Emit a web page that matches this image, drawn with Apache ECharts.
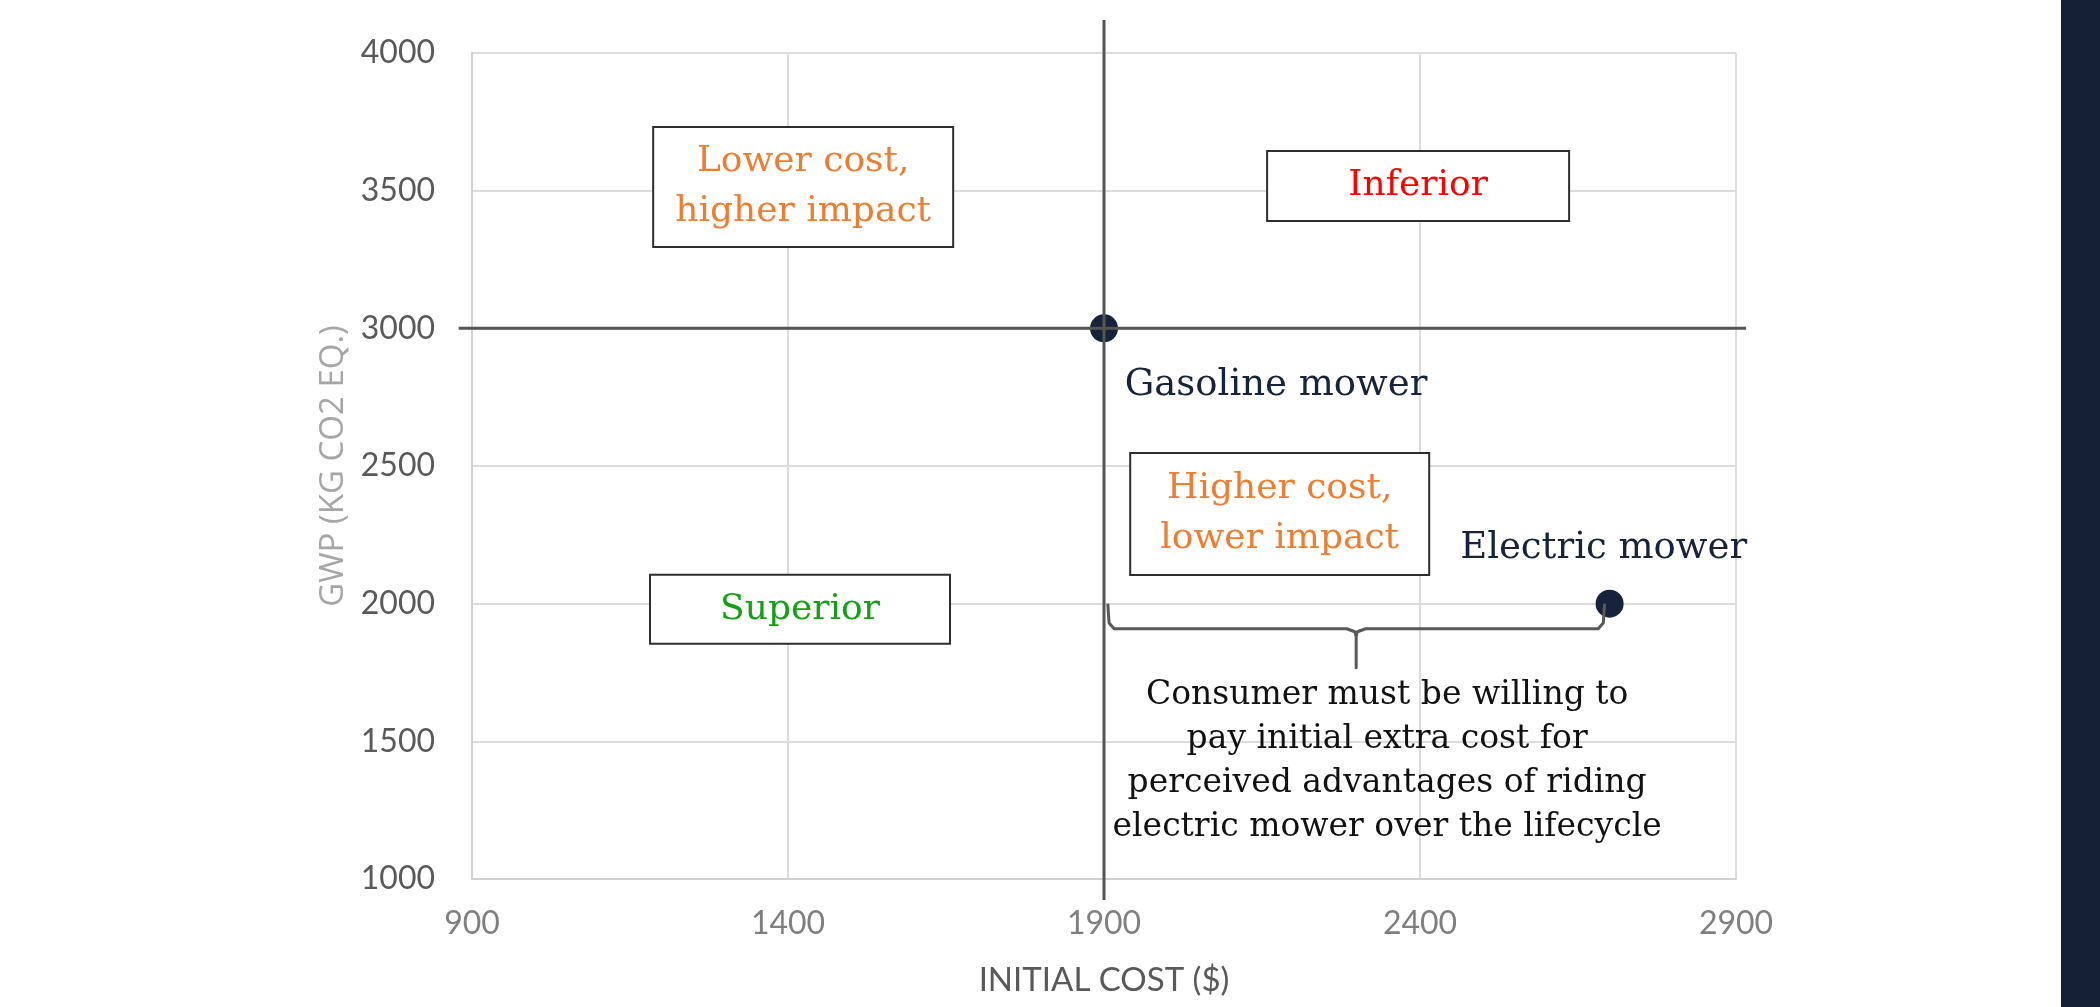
<!DOCTYPE html>
<html>
<head>
<meta charset="utf-8">
<script src="https://cdn.jsdelivr.net/npm/echarts@6/dist/echarts.min.js"></script>
<style>
html,body{margin:0;padding:0;background:#fff;}
#chart{width:2100px;height:1007px;}
</style>
</head>
<body>
<div id="chart"></div>
<script>
// ---- data ----
const mowerNames = ['Gasoline mower', 'Electric mower'];
const initialCost = [1900, 2700];
const gwpValues = [3000, 2000];

// reference cross-lines through the gasoline mower (extend slightly past the axes)
const vLineX = [1900, 1900];
const vLineY = [4120, 924];
const hLineX = [879, 2916];
const hLineY = [3000, 3000];

// brace under the cost gap (gasoline -> electric)
const braceX = [1906, 1908, 1916, 2284, 2297, 2299, 2299, 2299, 2301, 2314, 2682, 2690, 2692];
const braceY = [2000, 1930, 1909, 1909, 1898, 1880, 1767, 1880, 1898, 1909, 1909, 1930, 2000];

// quadrant labels
const quadrantTexts = ['Lower cost,\nhigher impact', 'Inferior', 'Higher cost,\nlower impact', 'Superior'];
const quadrantColors = ['#ed7d31', '#ff0000', '#ed7d31', '#13a013'];
const quadrantX = [1424, 2397, 2178, 1419];
const quadrantY = [3513, 3517, 2326, 1980];
const quadrantBoxW = [300, 302, 299, 300];
const quadrantBoxH = [120, 70, 122, 69];

const noteText = 'Consumer must be willing to\npay initial extra cost for\nperceived advantages of riding\nelectric mower over the lifecycle';
const noteX = 2348;
const noteY = 1428;

const xMin = 900, xMax = 2900, xStep = 500;
const yMin = 1000, yMax = 4000, yStep = 500;

// ---- chart ----
const chart = echarts.init(document.getElementById('chart'), null, {renderer: 'canvas'});
const serif = '"DejaVu Serif", Georgia, serif';
const navy = '#16233a';

const pointLabelOffsets = [[172, 57], [-6, -55]];

const option = {
  backgroundColor: '#ffffff',
  animation: false,
  grid: {left: 472, right: 364, top: 53, bottom: 128, containLabel: false},
  xAxis: {
    type: 'value', min: xMin, max: xMax, interval: xStep,
    name: 'INITIAL COST ($)', nameLocation: 'middle', nameGap: 85,
    nameTextStyle: {fontFamily: 'Lato', fontSize: 33, color: '#595959'},
    axisLine: {show: true, lineStyle: {color: '#d0d0d0', width: 2}},
    axisTick: {show: false},
    axisLabel: {fontFamily: 'Lato', fontSize: 32, color: '#7f7f7f', margin: 29, formatter: v => String(v)},
    splitLine: {show: true, lineStyle: {color: '#dcdcdc', width: 2}}
  },
  yAxis: {
    type: 'value', min: yMin, max: yMax, interval: yStep,
    name: 'GWP (KG CO2 EQ.)', nameLocation: 'middle', nameGap: 118,
    nameTextStyle: {fontFamily: '"Open Sans"', fontSize: 33, color: '#a6a6a6'},
    axisLine: {show: true, lineStyle: {color: '#d0d0d0', width: 2}},
    axisTick: {show: false},
    axisLabel: {fontFamily: 'Lato', fontSize: 32, color: '#595959', margin: 37, formatter: v => String(v)},
    splitLine: {show: true, lineStyle: {color: '#dcdcdc', width: 2}}
  },
  series: [
    {
      type: 'scatter',
      z: 3,
      symbolSize: 28,
      itemStyle: {color: navy, opacity: 1},
      data: mowerNames.map((n, i) => ({
        name: n,
        value: [initialCost[i], gwpValues[i]],
        label: {
          show: true, formatter: n, position: 'inside',
          offset: pointLabelOffsets[i],
          fontFamily: serif, fontSize: 37, color: navy
        }
      }))
    }
  ]
};
chart.setOption(option);

const toPx = (xs, ys) => xs.map((x, i) => chart.convertToPixel({gridIndex: 0}, [x, ys[i]]));

const graphics = [];
[[vLineX, vLineY, '#555555'], [hLineX, hLineY, '#555555'], [braceX, braceY, '#595959']].forEach(([xs, ys, c]) => {
  graphics.push({
    type: 'polyline', z: 5, silent: true,
    shape: {points: toPx(xs, ys)},
    style: {stroke: c, lineWidth: 3, fill: null, lineJoin: 'round'}
  });
});
// keep dots visible under the lines (lines drawn above dots as in reference)
quadrantTexts.forEach((t, i) => {
  const p = chart.convertToPixel({gridIndex: 0}, [quadrantX[i], quadrantY[i]]);
  const w = quadrantBoxW[i], h = quadrantBoxH[i];
  graphics.push({
    type: 'rect', z: 10,
    shape: {x: p[0] - w / 2, y: p[1] - h / 2, width: w, height: h},
    style: {fill: '#ffffff', stroke: '#2e2e2e', lineWidth: 2}
  });
  graphics.push({
    type: 'text', z: 11,
    style: {
      x: p[0], y: p[1], text: t, align: 'center', verticalAlign: 'middle',
      fontFamily: serif, fontSize: 36, lineHeight: 50, fill: quadrantColors[i]
    }
  });
});
const np = chart.convertToPixel({gridIndex: 0}, [noteX, noteY]);
graphics.push({
  type: 'text', z: 11,
  style: {
    x: np[0], y: np[1], text: noteText, align: 'center', verticalAlign: 'middle',
    fontFamily: serif, fontSize: 33, lineHeight: 44, fill: '#111111'
  }
});
// dark strip on the right edge of the slide
graphics.push({
  type: 'rect', z: 20,
  shape: {x: 2061, y: 0, width: 39, height: 1007},
  style: {fill: '#142033'}
});
chart.setOption({graphic: graphics});
</script>
</body>
</html>
